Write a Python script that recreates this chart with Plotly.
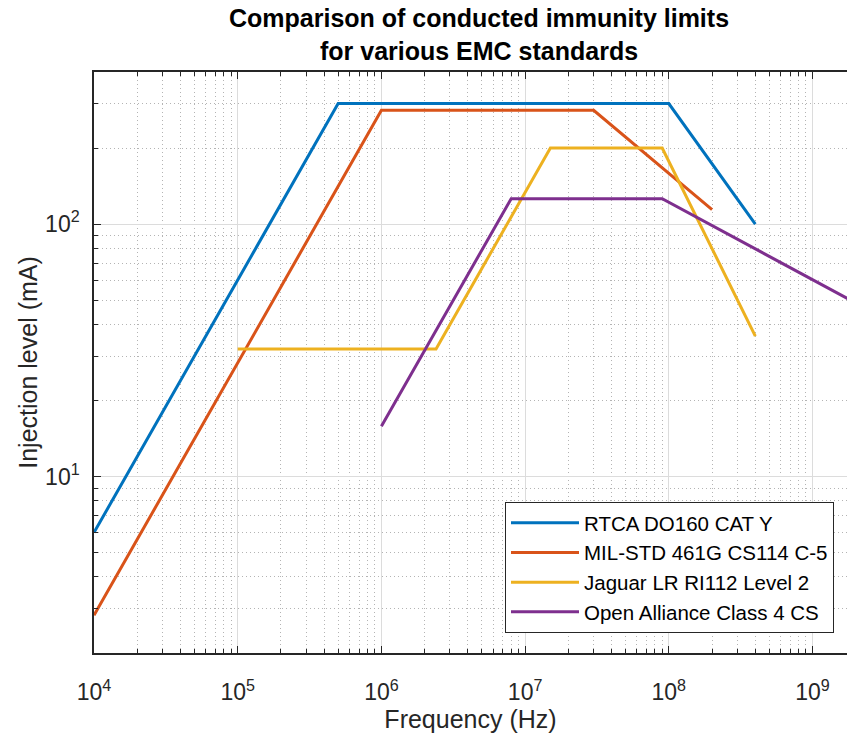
import plotly.graph_objects as go

# ---- data (frequency in Hz, injection level in mA) ----
rtca_f = [1e4, 5e5, 1e8, 4e8]
rtca_i = [6, 300, 300, 100]

mil_f = [1e4, 1e6, 3e7, 2e8]
mil_i = [2.82, 282, 282, 114]

jag_f = [1e5, 2.4e6, 1.5e7, 9e7, 4e8]
jag_i = [32, 32, 200, 200, 36]

oa_f = [1e6, 8e6, 9e7, 3e9]
oa_i = [15.8, 126, 126, 43]

series_names = ["RTCA DO160 CAT Y", "MIL-STD 461G CS114 C-5",
                "Jaguar LR RI112 Level 2", "Open Alliance Class 4 CS"]
series_colors = ["#0072BD", "#D95319", "#EDB120", "#7E2F8E"]

x_tickvals = [1e4, 1e5, 1e6, 1e7, 1e8, 1e9]
x_ticktext = ["10<sup>4</sup>", "10<sup>5</sup>", "10<sup>6</sup>",
              "10<sup>7</sup>", "10<sup>8</sup>", "10<sup>9</sup>"]
y_tickvals = [10, 100]
y_ticktext = ["10<sup>1</sup>", "10<sup>2</sup>"]

x_minor = [m * 10 ** e for e in range(4, 10) for m in range(2, 10)]
y_minor = [m * 10 ** e for e in range(0, 3) for m in range(2, 10)]

FONT = "Liberation Sans, Arial, sans-serif"
AX = "#262626"

fig = go.Figure()
for (f, i), name, col in zip([(rtca_f, rtca_i), (mil_f, mil_i), (jag_f, jag_i), (oa_f, oa_i)],
                             series_names, series_colors):
    fig.add_trace(go.Scatter(x=f, y=i, mode="lines", name=name,
                             line=dict(color=col, width=3)))

fig.add_annotation(
    text="<b>Comparison of conducted immunity limits<br>for various EMC standards</b>",
    xref="paper", yref="paper", x=(479 - 94) / 753, y=(653 - 34) / 581,
    xanchor="center", yanchor="middle", showarrow=False,
    font=dict(size=25, color="black", family=FONT),
)

fig.update_layout(
    width=847, height=734,
    margin=dict(l=94, r=0, t=72, b=81, autoexpand=False),
    paper_bgcolor="white", plot_bgcolor="white",
    font=dict(family=FONT, color=AX),
    legend=dict(x=(834 - 94) / 753, y=(653 - 633) / 581, xanchor="right", yanchor="bottom",
                bgcolor="white", bordercolor=AX, borderwidth=1,
                font=dict(size=20.5, color="black", family=FONT),
                itemwidth=68, tracegroupgap=0),
    showlegend=True,
)

minor_style = dict(ticks="inside", ticklen=4, tickcolor=AX, showgrid=True,
                   gridcolor="#B4B4B4", griddash="1px,3px", gridwidth=1)

fig.update_xaxes(
    type="log", range=[4, 4 + 753 / 143.7], automargin=False,
    tickmode="array", tickvals=x_tickvals, ticktext=x_ticktext,
    tickfont=dict(size=23, color=AX), ticklabelstandoff=18,
    ticks="inside", ticklen=7, tickcolor=AX, tickwidth=1,
    showline=True, linecolor=AX, linewidth=1.5, mirror="ticks",
    showgrid=True, gridcolor="#DCDCDC", gridwidth=1,
    zeroline=False,
    minor=dict(tickmode="array", tickvals=x_minor, **minor_style),
    title=dict(text="Frequency (Hz)", font=dict(size=25, color=AX), standoff=4),
)
fig.update_yaxes(
    type="log", range=[0.30103, 2.60206], automargin=False,
    tickmode="array", tickvals=y_tickvals, ticktext=y_ticktext,
    tickfont=dict(size=23, color=AX), ticklabelstandoff=8,
    ticks="inside", ticklen=7, tickcolor=AX, tickwidth=1,
    showline=True, linecolor=AX, linewidth=1.5, mirror=False,
    showgrid=True, gridcolor="#DCDCDC", gridwidth=1,
    zeroline=False,
    minor=dict(tickmode="array", tickvals=y_minor, **minor_style),
    title=dict(text="Injection level (mA)", font=dict(size=25, color=AX), standoff=0),
)

fig.write_html("out.html", config={"displayModeBar": False},
               post_script="document.body.style.margin='0px';document.body.style.overflow='hidden';")
